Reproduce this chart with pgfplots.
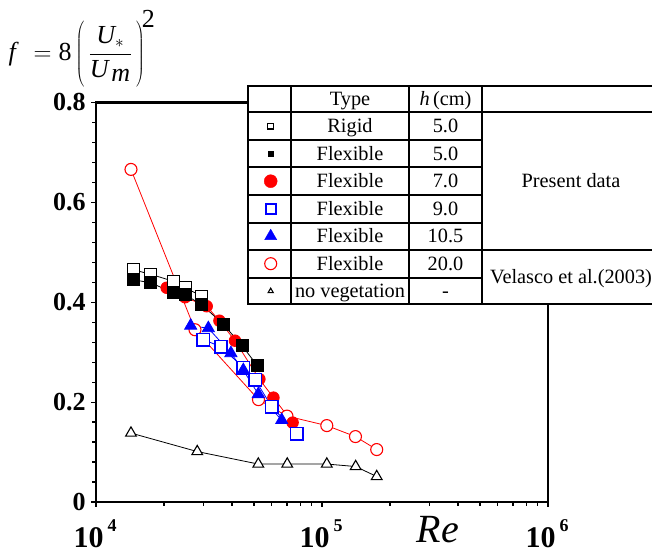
\documentclass[border=0pt]{standalone}
\usepackage{pgfplots}
\pgfplotsset{compat=1.18}
\usepackage{fontspec}
\setmainfont{Liberation Serif}
\definecolor{pureblue}{RGB}{0,0,255}
\newcommand{\dec}[1]{\textbf{10}\hspace{4pt}\raisebox{0.55em}{\fontsize{18}{18}\selectfont\textbf{#1}}}
\begin{document}
\begin{tikzpicture}
\useasboundingbox (0pt,0pt) rectangle (652pt,553pt);
\begin{axis}[
  at={(96pt,51pt)}, anchor=south west,
  scale only axis, width=452pt, height=399.5pt,
  xmode=log, xmin=1e4, xmax=1e6, ymin=0, ymax=0.8,
  xtick={1e4,1e5,1e6},
  xticklabels={\dec{4},\dec{5},\dec{6}},
  minor xtick={2e4,3e4,4e4,5e4,6e4,7e4,8e4,9e4,2e5,3e5,4e5,5e5,6e5,7e5,8e5,9e5},
  ytick={0,0.2,0.4,0.6,0.8},
  yticklabels={0,0.2,0.4,0.6,0.8},
  minor y tick num=4,
  tick align=outside, xtick pos=left, ytick pos=left,
  major tick length=5pt, minor tick length=4pt,
  tick style={line width=1.2pt, black},
  axis line style={line width=2.2pt},
  xticklabel style={font=\fontsize{30}{30}\selectfont, yshift=-9pt, xshift=-1pt},
  yticklabel style={font=\fontsize{26}{26}\selectfont\bfseries, xshift=-2pt},
  clip=false,
]
% Velasco et al. (2003), h = 20 cm
\addplot[red, line width=0.8pt, mark=*, mark size=6pt, mark options={fill=white, draw=red, line width=1.1pt}] coordinates {
(14280,0.666) (27410,0.345) (52350,0.205) (69980,0.172) (105000,0.153) (140600,0.131) (174600,0.105)};
% no vegetation
\addplot[black, line width=0.8pt, mark=triangle*, mark size=6.2pt, mark options={fill=white, draw=black, line width=1.1pt}] coordinates {
(14280,0.138) (28050,0.101) (52250,0.076) (70170,0.076) (105000,0.076) (140900,0.071) (174600,0.051)};
% flexible 7.0
\addplot[red, line width=0.8pt, mark=*, mark size=5.8pt, mark options={fill=red, draw=red}] coordinates {
(20540,0.429) (24770,0.410) (30890,0.392) (35160,0.363) (41200,0.323) (52830,0.246) (60960,0.209) (74130,0.159)};
% flexible 9.0
\addplot[pureblue, line width=0.8pt, mark=square*, mark size=6.2pt, mark options={fill=white, draw=pureblue, line width=1.5pt}] coordinates {
(29850,0.325) (35730,0.311) (44850,0.269) (50570,0.245) (59860,0.191) (77300,0.137)};
% flexible 10.5
\addplot[pureblue, line width=0.8pt, mark=triangle*, mark size=7pt, mark options={fill=pureblue, draw=pureblue}] coordinates {
(26240,0.353) (31410,0.348) (39530,0.298) (44850,0.264) (52250,0.216) (66340,0.164)};
% rigid 5.0
\addplot[black, line width=0.8pt, mark=square*, mark size=6pt, mark options={fill=white, draw=black, line width=1.1pt}] coordinates {
(14630,0.465) (17460,0.456) (21980,0.442) (24830,0.429) (29380,0.412)};
% flexible 5.0
\addplot[black, line width=0.8pt, mark=square*, mark size=6pt, mark options={fill=black, draw=black}] coordinates {
(14630,0.445) (17460,0.439) (21980,0.419) (24830,0.415) (29380,0.395) (36560,0.356) (44260,0.313) (51780,0.273)};
\end{axis}

% formula and axis title
\node at (82pt,504pt) {\fontsize{26}{26}\selectfont $\displaystyle \textit{f}\;\, = \textrm{8}\left(\vcenter{\hbox{\rule{0pt}{66pt}}}\,\frac{\textit{U}_{*}}{\textit{U}_{\,\textit{m}}}\,\right)^{\!\textrm{2}}$};
\node at (438pt,23pt) {\fontsize{40}{40}\selectfont\textit{Re}};

% table
\fill[white] (248pt,249pt) rectangle (662pt,467pt);
\begin{scope}[line width=1.6pt, line cap=rect]
\draw (248pt,467pt) -- (662pt,467pt);
\draw (248pt,441pt) -- (662pt,441pt);
\foreach \y in {413,386,358,330,275} \draw (248pt,\y pt) -- (482pt,\y pt);
\draw (248pt,303pt) -- (662pt,303pt);
\draw (248pt,249pt) -- (662pt,249pt);
\foreach \x in {248,291,409,482} \draw (\x pt,249pt) -- (\x pt,467pt);
\end{scope}
\begin{scope}[every node/.style={anchor=base, inner sep=0pt, font=\fontsize{20.3}{20.3}\selectfont}]
\node at (350pt,447pt) {Type};
\node at (445.5pt,447pt) {\textit{h}\,(cm)};
\node at (350pt,420pt) {Rigid};
\node at (445.5pt,420pt) {5.0};
\node at (350pt,392.5pt) {Flexible};
\node at (445.5pt,392.5pt) {5.0};
\node at (350pt,365pt) {Flexible};
\node at (445.5pt,365pt) {7.0};
\node at (350pt,337.5pt) {Flexible};
\node at (445.5pt,337.5pt) {9.0};
\node at (350pt,310pt) {Flexible};
\node at (445.5pt,310pt) {10.5};
\node at (350pt,282.5pt) {Flexible};
\node at (445.5pt,282.5pt) {20.0};
\node at (350pt,255pt) {no vegetation};
\node at (445.5pt,255pt) {-};
\node at (571pt,365pt) {Present data};
\node at (571pt,269pt) {Velasco et al.(2003)};
\end{scope}

% legend symbols (pgfplots legend)
\begin{axis}[
  at={(96pt,51pt)}, anchor=south west,
  scale only axis, width=452pt, height=399.5pt,
  hide axis, xmin=0, xmax=1, ymin=0, ymax=1,
  legend style={at={(axis description cs:0.37168,0.97559)}, anchor=north west,
    draw=none, fill=none, inner sep=0pt, row sep=0pt, nodes={inner sep=0pt}},
  legend image code/.code={\path[draw=none, fill=none] (-5pt,-13.75pt) rectangle (5pt,13.75pt);
    \draw[#1] plot[only marks] coordinates {(0pt,0pt)};},
]
\addlegendimage{draw=black, mark=square*, mark size=2.8pt, mark options={solid, fill=white, draw=black, line width=1.1pt}}
\addlegendentry{\mbox{}}
\addlegendimage{draw=black, mark=square*, mark size=2.8pt, mark options={solid, fill=black, draw=black}}
\addlegendentry{\mbox{}}
\addlegendimage{draw=red, mark=*, mark size=6.5pt, mark options={solid, fill=red, draw=red}}
\addlegendentry{\mbox{}}
\addlegendimage{legend image code/.code={\path[draw=none, fill=none] (-5pt,-13.75pt) rectangle (5pt,13.75pt);
    \fill[pureblue] (-5.5pt,-5.5pt) rectangle (5.5pt,5.5pt);
    \fill[white] (-3.6pt,-3.6pt) rectangle (3.6pt,3.6pt);}}
\addlegendentry{\mbox{}}
\addlegendimage{draw=pureblue, mark=triangle*, mark size=7pt, mark options={solid, fill=pureblue, draw=pureblue}}
\addlegendentry{\mbox{}}
\addlegendimage{draw=red, mark=*, mark size=6pt, mark options={solid, fill=white, draw=red, line width=1.1pt}}
\addlegendentry{\mbox{}}
\addlegendimage{draw=black, mark=triangle*, mark size=3pt, mark options={solid, fill=white, draw=black, line width=1.1pt}}
\addlegendentry{\mbox{}}
\end{axis}
\end{tikzpicture}
\end{document}
